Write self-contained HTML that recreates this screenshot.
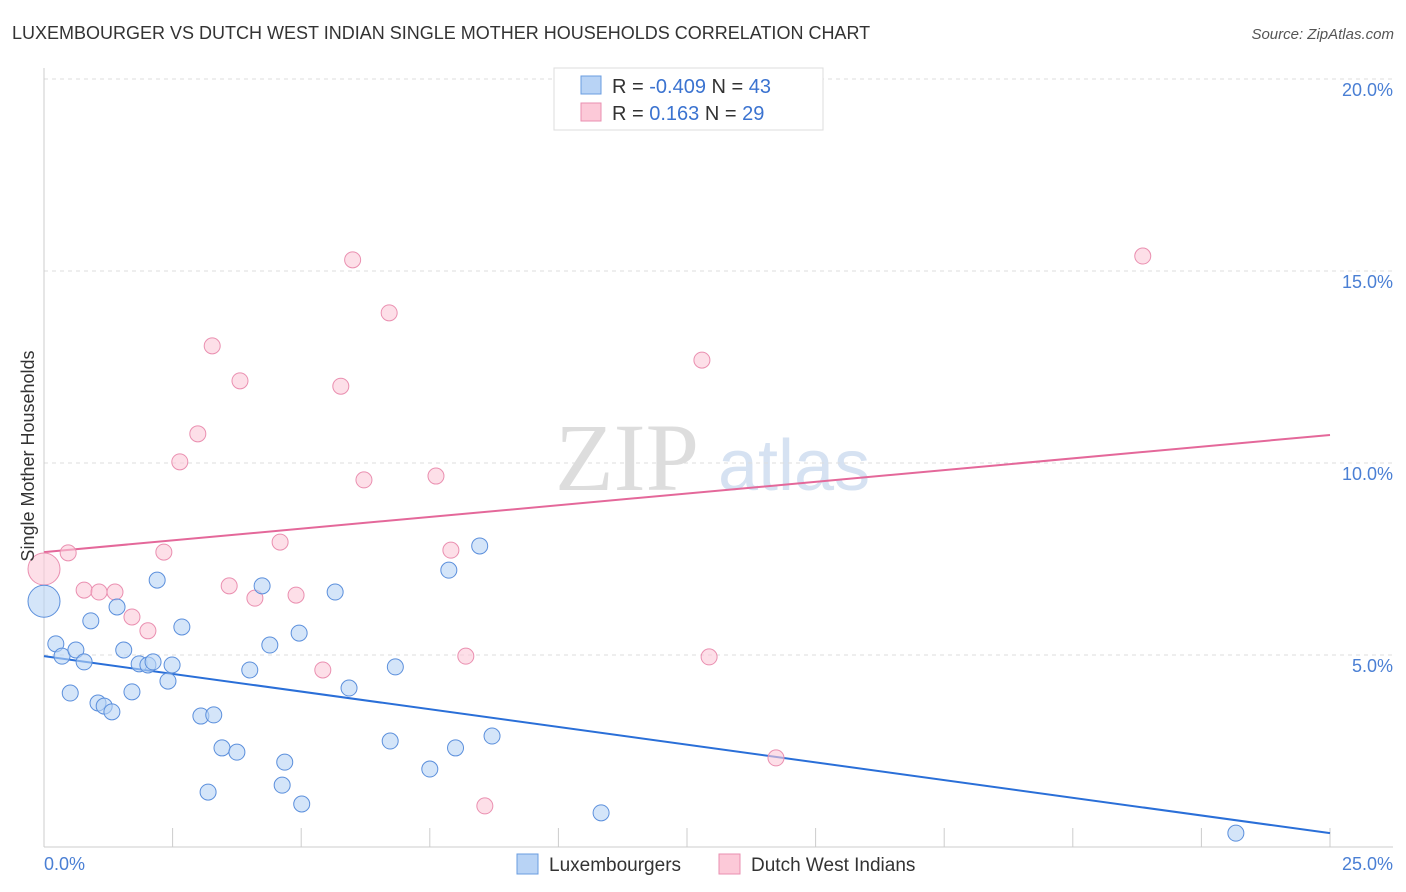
<!DOCTYPE html>
<html><head><meta charset="utf-8"><style>
body{margin:0;background:#fff;font-family:"Liberation Sans",sans-serif;}
svg{display:block}
</style></head><body>
<svg width="1406" height="892">
<text x="12" y="39" font-size="18" fill="#333">LUXEMBOURGER VS DUTCH WEST INDIAN SINGLE MOTHER HOUSEHOLDS CORRELATION CHART</text>
<text x="1394" y="39" font-size="15" fill="#555" font-style="italic" text-anchor="end">Source: ZipAtlas.com</text>
<g><text x="555" y="490" font-size="96" fill="#ddd" font-family="Liberation Serif,serif">ZIP</text><text x="718" y="490" font-size="72" fill="#d6e2f2">atlas</text></g>
<g id="grid"></g><g id="axes"></g><g id="lines"></g><g id="pts"></g>
<text transform="translate(34,456) rotate(-90)" font-size="18" fill="#333" text-anchor="middle">Single Mother Households</text>
<text x="44" y="870" font-size="18" fill="#4a7fd4">0.0%</text>
<text x="1393" y="870" font-size="18" fill="#4a7fd4" text-anchor="end">25.0%</text>
<g>
<rect x="554" y="68" width="269" height="62" fill="#fff" stroke="#ddd"/>
<rect x="581" y="76" width="20" height="18" fill="#b8d3f5" stroke="#6a9de0"/>
<rect x="581" y="103" width="20" height="18" fill="#fcc9d8" stroke="#ea8fb0"/>
<text x="612" y="93" font-size="20" fill="#333">R = <tspan fill="#3b73d0">-0.409</tspan>   N = <tspan fill="#3b73d0">43</tspan></text>
<text x="612" y="120" font-size="20" fill="#333">R =   <tspan fill="#3b73d0"> 0.163</tspan>   N = <tspan fill="#3b73d0">29</tspan></text>
</g>
<g>
<rect x="517" y="854" width="21" height="20" fill="#b8d3f5" stroke="#6a9de0"/>
<text x="549" y="871" font-size="19" fill="#333">Luxembourgers</text>
<rect x="719" y="854" width="21" height="20" fill="#fcc9d8" stroke="#ea8fb0"/>
<text x="751" y="871" font-size="19" fill="#333">Dutch West Indians</text>
</g>
</svg>
<script>
const yTicks=[5,10,15,20];
const yTickLabels=["5.0%","10.0%","15.0%","20.0%"];
const blueX=[0,0.23,0.35,0.62,0.78,0.51,0.91,1.05,1.17,1.32,1.42,1.55,1.71,1.85,2.02,2.12,2.2,2.41,2.49,2.68,3.05,3.3,3.19,3.46,3.75,4.0,4.24,4.39,4.68,4.63,4.96,5.01,5.66,5.93,6.73,6.83,7.5,7.87,8.0,8.47,8.71,10.83,23.17];
const blueY=[6.4,5.29,4.97,5.13,4.82,4.01,5.89,3.75,3.67,3.52,6.25,5.13,4.04,4.77,4.74,4.82,6.95,4.32,4.74,5.73,3.41,3.44,1.43,2.58,2.47,4.61,6.8,5.26,2.21,1.61,5.57,1.12,6.64,4.14,2.76,4.69,2.03,7.21,2.58,7.84,2.89,0.89,0.36];
const pinkX=[0,0.47,0.78,1.07,1.38,1.71,2.02,2.33,2.64,2.99,3.27,3.6,3.81,4.1,4.59,4.9,5.42,5.77,6.0,6.22,6.71,7.62,7.91,8.2,8.57,12.79,12.93,14.23,21.36];
const pinkY=[7.24,7.66,6.69,6.64,6.64,5.99,5.63,7.68,10.03,10.76,13.05,6.8,12.14,6.48,7.94,6.56,4.61,12.0,15.29,9.56,13.91,9.66,7.73,4.97,1.07,12.68,4.95,2.32,15.39];
const blueTrend=[4.97,0.36];
const pinkTrend=[7.68,10.73];
const NS="http://www.w3.org/2000/svg";
const xs=v=>44+v*51.44, ys=v=>847-v*38.4;
function mk(p,t,a){const e=document.createElementNS(NS,t);for(const k in a)e.setAttribute(k,a[k]);document.getElementById(p).appendChild(e);return e;}
yTicks.forEach((t,i)=>{
 const l=mk('grid','line',{x1:44,x2:1393,y1:ys(t),y2:ys(t),stroke:'#ddd','stroke-dasharray':'4,4'});
 
 
 const tx=mk('grid','text',{x:1393,y:ys(t)+17,'font-size':18,fill:'#4a7fd4','text-anchor':'end'});
 tx.textContent=yTickLabels[i];
 
 
});
const ax=mk('axes','line',{x1:44,x2:44,y1:68,y2:847,stroke:'#ccc'});


const bx=mk('axes','line',{x1:44,x2:1393,y1:847,y2:847,stroke:'#ccc'});


for(let i=0;i<=10;i++){const t=mk('axes','line',{x1:xs(i*2.5),x2:xs(i*2.5),y1:828,y2:847,stroke:'#ccc'});
 
 }
function pts(X,Y,fill,stroke,name){X.forEach((x,i)=>{const r=i===0?16:8;
 const c=mk('pts','circle',{cx:xs(x),cy:ys(Y[i]),r:r,fill:fill,stroke:stroke,'fill-opacity':0.6,'stroke-width':1});
 
 });}
pts(pinkX,pinkY,'#fcc9d8','#ea8fb0','dutch-west-indian-point');
pts(blueX,blueY,'#b8d3f5','#5b8fdc','luxembourger-point');
const bl=mk('lines','line',{x1:xs(0),x2:xs(25),y1:ys(blueTrend[0]),y2:ys(blueTrend[1]),stroke:'#2a6fd8','stroke-width':2});


const pl=mk('lines','line',{x1:xs(0),x2:xs(25),y1:ys(pinkTrend[0]),y2:ys(pinkTrend[1]),stroke:'#e4689a','stroke-width':2});


</script>
</body></html>
